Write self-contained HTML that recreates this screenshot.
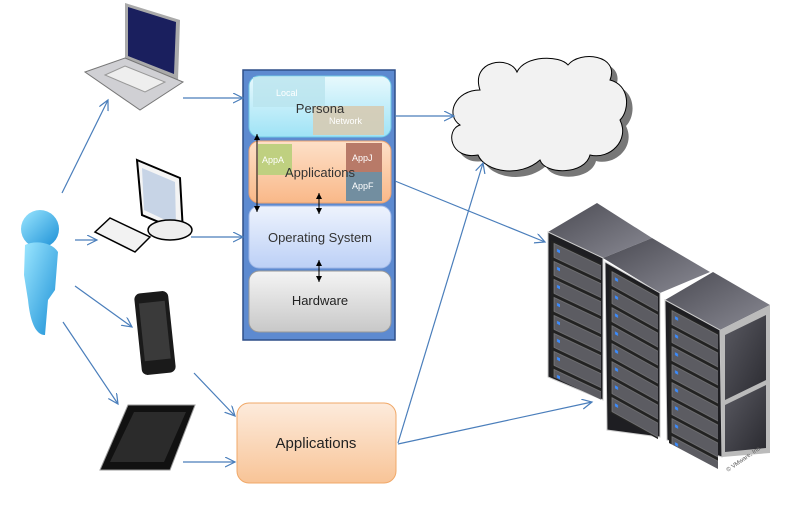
<!DOCTYPE html>
<html><head><meta charset="utf-8"><style>html,body{margin:0;padding:0;background:#fff}svg{display:block}text{font-family:"Liberation Sans",sans-serif}</style></head>
<body>
<svg width="795" height="521" viewBox="0 0 795 521" xmlns="http://www.w3.org/2000/svg">
<defs>
<marker id="a" markerWidth="12" markerHeight="12" refX="10" refY="5" orient="auto" markerUnits="userSpaceOnUse"><path d="M0,0 L10,5 L0,10" fill="none" stroke="#4a7ebb" stroke-width="1.2"/></marker>
<marker id="b" markerWidth="8" markerHeight="8" refX="6" refY="3" orient="auto-start-reverse" markerUnits="userSpaceOnUse"><path d="M0,0 L6,3 L0,6z" fill="#000"/></marker>
<linearGradient id="gp" x1="0" y1="0" x2="0" y2="1"><stop offset="0" stop-color="#e8f9fd"/><stop offset="1" stop-color="#9fe3f6"/></linearGradient>
<linearGradient id="ga" x1="0" y1="0" x2="0" y2="1"><stop offset="0" stop-color="#fde0c8"/><stop offset="1" stop-color="#f9b888"/></linearGradient>
<linearGradient id="go" x1="0" y1="0" x2="0" y2="1"><stop offset="0" stop-color="#eef3fd"/><stop offset="1" stop-color="#bcd0f6"/></linearGradient>
<linearGradient id="gh" x1="0" y1="0" x2="0" y2="1"><stop offset="0" stop-color="#f4f4f4"/><stop offset="1" stop-color="#c8c8c8"/></linearGradient>
<linearGradient id="gb" x1="0" y1="0" x2="0" y2="1"><stop offset="0" stop-color="#fdebdc"/><stop offset="1" stop-color="#f8c497"/></linearGradient>
<linearGradient id="gu" x1="0" y1="0" x2="1" y2="1"><stop offset="0" stop-color="#9be6ff"/><stop offset="1" stop-color="#1a8fd6"/></linearGradient>
<linearGradient id="gs" x1="0" y1="0" x2="1" y2="1"><stop offset="0" stop-color="#5a5a62"/><stop offset="1" stop-color="#2a2a30"/></linearGradient>
<linearGradient id="gt" x1="0" y1="0" x2="1" y2="1"><stop offset="0" stop-color="#4a4a52"/><stop offset="1" stop-color="#8a8a94"/></linearGradient>
<pattern id="rows" width="55" height="18" patternUnits="userSpaceOnUse">
<rect x="0" y="0" width="55" height="18" fill="#222"/>
<rect x="3" y="2" width="49" height="14" fill="#5c5c62" stroke="#888" stroke-width="0.6"/>
<rect x="6" y="6" width="3" height="3" fill="#3a8cff"/>
</pattern>
</defs>

<!-- stack -->
<rect x="243" y="70" width="152" height="270" fill="#5d8ad0" stroke="#2e4f88" stroke-width="1.5"/>
<rect x="249" y="76" width="142" height="61" rx="10" fill="url(#gp)" stroke="#6fc8e4"/>
<rect x="253" y="77" width="72" height="30" fill="#b9e4ee" opacity="0.8"/>
<text x="276" y="96" font-size="9" fill="#fff">Local</text>
<rect x="313" y="106" width="71" height="29" fill="#d6cbb2" opacity="0.9"/>
<text x="329" y="124" font-size="9" fill="#fff">Network</text>
<text x="320" y="113" font-size="13" text-anchor="middle" fill="#333">Persona</text>

<rect x="249" y="141" width="142" height="62" rx="10" fill="url(#ga)" stroke="#e8a070"/>
<rect x="258" y="144" width="34" height="31" fill="#bfd080"/>
<text x="262" y="163" font-size="9" fill="#fff">AppA</text>
<rect x="346" y="143" width="36" height="29" fill="#b87a68"/>
<text x="352" y="161" font-size="9" fill="#fff">AppJ</text>
<rect x="346" y="172" width="36" height="29" fill="#728ea0"/>
<text x="352" y="189" font-size="9" fill="#fff">AppF</text>
<text x="320" y="177" font-size="13" text-anchor="middle" fill="#333">Applications</text>

<rect x="249" y="206" width="142" height="62" rx="10" fill="url(#go)" stroke="#9fb7e6"/>
<text x="320" y="242" font-size="13" text-anchor="middle" fill="#333">Operating System</text>
<rect x="249" y="271" width="142" height="61" rx="10" fill="url(#gh)" stroke="#999"/>
<text x="320" y="305" font-size="13" text-anchor="middle" fill="#222">Hardware</text>

<line x1="257" y1="134" x2="257" y2="212" stroke="#000" marker-start="url(#b)" marker-end="url(#b)"/>
<line x1="319" y1="193" x2="319" y2="214" stroke="#000" marker-start="url(#b)" marker-end="url(#b)"/>
<line x1="319" y1="260" x2="319" y2="282" stroke="#000" marker-start="url(#b)" marker-end="url(#b)"/>

<!-- bottom applications -->
<rect x="237" y="403" width="159" height="80" rx="12" fill="url(#gb)" stroke="#f0a868"/>
<text x="316" y="448" font-size="15" text-anchor="middle" fill="#222">Applications</text>

<!-- cloud -->
<g transform="translate(6,6)" fill="#777">
<path d="M480,90 C470,60 510,55 517,72 C525,55 560,55 568,65 C580,50 620,55 610,80 C630,85 630,110 620,120 C630,140 610,160 590,155 C585,175 545,175 540,160 C520,178 485,172 478,155 C450,160 445,130 460,125 C445,115 455,90 480,90 Z"/></g>
<path d="M480,90 C470,60 510,55 517,72 C525,55 560,55 568,65 C580,50 620,55 610,80 C630,85 630,110 620,120 C630,140 610,160 590,155 C585,175 545,175 540,160 C520,178 485,172 478,155 C450,160 445,130 460,125 C445,115 455,90 480,90 Z" fill="#f2f2f2" stroke="#000" stroke-width="1"/>

<!-- servers -->
<g>
<path d="M548,232 L597,203 L652,238 L603,258 Z" fill="url(#gt)"/>
<path d="M548,232 L603,258 L603,400 L548,377 Z" fill="#1e1e22" stroke="#ccc" stroke-width="1"/>
<g transform="translate(551,240) skewY(25.3)"><rect x="0" y="0" width="50" height="136" fill="url(#rows)"/></g>
<path d="M603,258 L652,238 L710,272 L660,293 Z" fill="url(#gt)"/>
<path d="M605,262 L660,293 L660,437 L607,430 Z" fill="#1e1e22" stroke="#ccc" stroke-width="1"/>
<g transform="translate(609,268) skewY(29)"><rect x="0" y="0" width="49" height="144" fill="url(#rows)"/></g>
<path d="M665,300 L713,272 L770,305 L720,330 Z" fill="url(#gt)"/>
<path d="M665,300 L720,330 L722,457 L667,440 Z" fill="#1e1e22" stroke="#ccc" stroke-width="1"/>
<g transform="translate(669,307) skewY(28)"><rect x="0" y="0" width="49" height="136" fill="url(#rows)"/></g>
<path d="M720,330 L770,305 L770,453 L722,457 Z" fill="#bbb"/>
<path d="M725,335 L766,315 L766,380 L725,400 Z" fill="url(#gs)"/>
<path d="M725,405 L766,385 L766,448 L725,452 Z" fill="url(#gs)"/>
<text x="728" y="472" font-size="6" fill="#555" transform="rotate(-35 728 472)">© VMware, Inc.</text>
</g>

<!-- person -->
<circle cx="40" cy="229" r="19" fill="url(#gu)"/>
<path d="M25,245 C35,240 52,242 58,252 L55,290 L48,300 L45,335 C35,335 30,320 28,300 L24,275 Z" fill="url(#gu)"/>

<!-- laptop -->
<path d="M125,3 L180,20 L178,80 L125,58 Z" fill="#aaa"/>
<path d="M128,7 L176,22 L174,74 L128,56 Z" fill="#1a1f5e"/>
<path d="M85,72 L125,58 L183,82 L140,110 Z" fill="#d0d0d4" stroke="#777"/>
<path d="M105,75 L125,66 L165,82 L145,92 Z" fill="#eee" stroke="#999"/>
<!-- monitor -->
<path d="M137,160 L180,178 L183,232 L142,215 Z" fill="#f4f4f4" stroke="#000" stroke-width="2"/>
<path d="M142,168 L175,182 L176,225 L144,210 Z" fill="#c7d4e6"/>
<ellipse cx="170" cy="230" rx="22" ry="10" fill="#eee" stroke="#000" stroke-width="1.5"/>
<path d="M95,232 L110,218 L150,237 L135,252 Z" fill="#f2f2f2" stroke="#000" stroke-width="1.5"/>
<!-- phone -->
<rect x="138" y="292" width="34" height="82" rx="6" fill="#1a1a1a" transform="rotate(-6 155 333)"/>
<rect x="142" y="302" width="26" height="58" fill="#3a3a3a" transform="rotate(-6 155 333)"/>
<!-- tablet -->
<path d="M128,405 L195,405 L170,470 L100,470 Z" fill="#111" stroke="#999"/>
<path d="M134,412 L186,412 L164,462 L110,462 Z" fill="#2b2b2b"/>

<!-- arrows -->
<g stroke="#4a7ebb" stroke-width="1.2" fill="none" marker-end="url(#a)">
<line x1="62" y1="193" x2="108" y2="100"/>
<line x1="75" y1="240" x2="97" y2="240"/>
<line x1="75" y1="286" x2="132" y2="327"/>
<line x1="63" y1="322" x2="118" y2="404"/>
<line x1="183" y1="98" x2="243" y2="98"/>
<line x1="191" y1="237" x2="243" y2="237"/>
<line x1="194" y1="373" x2="235" y2="416"/>
<line x1="183" y1="462" x2="235" y2="462"/>
<line x1="395" y1="116" x2="454" y2="116"/>
<line x1="395" y1="181" x2="545" y2="242"/>
<line x1="398" y1="443" x2="483" y2="163"/>
<line x1="398" y1="444" x2="592" y2="402"/>
</g>
</svg>
</body></html>
